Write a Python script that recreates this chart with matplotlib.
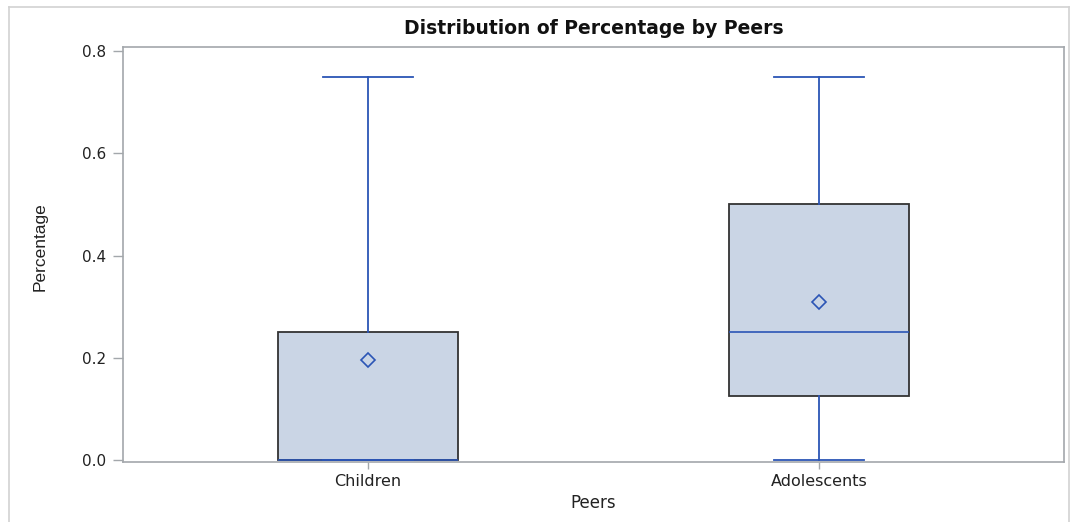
import matplotlib
matplotlib.use("Agg")
import matplotlib.pyplot as plt
from matplotlib.lines import Line2D

# Summary statistics per peer group
groups = ["Children", "Adolescents"]
whisker_low = [0.0, 0.0]
q1 = [0.0, 0.125]
medians = [0.0, 0.25]
q3 = [0.25, 0.5]
whisker_high = [0.75, 0.75]
means = [0.195, 0.31]

yticks = [0.0, 0.2, 0.4, 0.6, 0.8]

fill_col = "#cad5e5"
edge_col = "#333333"
blue = "#2b55b5"
axis_col = "#a3a7ab"
text_col = "#222222"

fig = plt.figure(figsize=(10.71, 5.22), dpi=100)
ax = fig.add_axes([123 / 1071, 1 - 462 / 522, (1064 - 123) / 1071, (462 - 47) / 522])

stats = []
for i, g in enumerate(groups):
    stats.append(dict(label=g, whislo=whisker_low[i], q1=q1[i], med=medians[i],
                      q3=q3[i], whishi=whisker_high[i], mean=means[i], fliers=[]))

positions = list(range(len(groups)))
ax.bxp(stats, positions=positions, widths=0.4, patch_artist=True, showmeans=True,
       boxprops=dict(facecolor=fill_col, edgecolor=edge_col, linewidth=1.3),
       medianprops=dict(color=blue, linewidth=1.2),
       whiskerprops=dict(color=blue, linewidth=1.3),
       capprops=dict(color=blue, linewidth=1.3),
       capwidths=0.2,
       meanprops=dict(marker="D", markersize=7, markerfacecolor="none",
                      markeredgecolor=blue, markeredgewidth=1.2),
       showfliers=False)

ax.set_xlim(-0.543, 1.543)
ax.set_ylim(-0.004, 0.808)
ax.set_yticks(yticks)
ax.set_yticklabels([f"{v:.1f}" for v in yticks])
ax.set_xticks(positions)
ax.set_xticklabels(groups)

for s in ax.spines.values():
    s.set_color(axis_col)
    s.set_linewidth(1.2)

ax.tick_params(axis="y", length=7, width=1, color=axis_col, labelsize=11, pad=5)
ax.tick_params(axis="x", length=5, width=1, color=axis_col, labelsize=11.5, pad=4)
for t in ax.get_xticklabels() + ax.get_yticklabels():
    t.set_color(text_col)

ax.set_xlabel("Peers", fontsize=12, color=text_col, labelpad=3)
ax.set_ylabel("Percentage", fontsize=12.5, color=text_col,
              family=["Liberation Sans Narrow", "Liberation Sans"])
ax.yaxis.set_label_coords(-0.08, 0.52)
ax.set_title("Distribution of Percentage by Peers", fontsize=13.5, fontweight="bold",
             color="#111111", pad=9)

# light outer frame
frame_col = "#d2d2d2"
fig.add_artist(Line2D([9 / 1071, 9 / 1071], [0, 1 - 7 / 522], transform=fig.transFigure,
                      color=frame_col, linewidth=1.2))
fig.add_artist(Line2D([9 / 1071, 1069 / 1071], [1 - 7 / 522, 1 - 7 / 522],
                      transform=fig.transFigure, color=frame_col, linewidth=1.2))
fig.add_artist(Line2D([1069 / 1071, 1069 / 1071], [0, 1 - 7 / 522], transform=fig.transFigure,
                      color=frame_col, linewidth=1.2))

fig.savefig("out.png", dpi=100)
